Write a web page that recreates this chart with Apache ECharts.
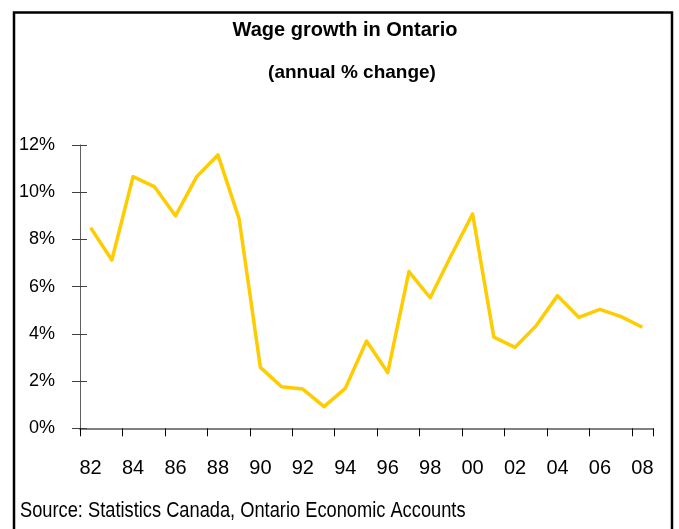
<!DOCTYPE html>
<html>
<head>
<meta charset="utf-8">
<style>
  html, body { margin: 0; padding: 0; background: #ffffff; }
  #chart { width: 679px; height: 529px; }
</style>
<script src="https://cdn.jsdelivr.net/npm/echarts@6/dist/echarts.min.js"></script>
</head>
<body>
<div id="chart"></div>
<script>
// Years 1982-2008, shown as two-digit labels
const years = ['82','83','84','85','86','87','88','89','90','91','92','93','94','95',
               '96','97','98','99','00','01','02','03','04','05','06','07','08'];
// Annual % change in wages, Ontario
const wageGrowth = [8.50, 7.13, 10.66, 10.24, 9.00, 10.66, 11.58, 8.86, 2.58, 1.76, 1.66, 0.92, 1.69, 3.70,
                    2.36, 6.64, 5.53, 7.34, 9.08, 3.86, 3.43, 4.35, 5.62, 4.70, 5.04, 4.73, 4.28];
// Value axis ticks (percent)
const yTicks = [0, 2, 4, 6, 8, 10, 12];

const titleText = 'Wage growth in Ontario';
const subtitleText = '(annual % change)';
const sourceText = 'Source: Statistics Canada, Ontario Economic Accounts';

const sans = "'Liberation Sans', Arial, sans-serif";

const chart = echarts.init(document.getElementById('chart'), null, { renderer: 'canvas' });

chart.setOption({
  animation: false,
  backgroundColor: '#ffffff',
  grid: { left: 80, right: 26, top: 145, bottom: 100.7, containLabel: false },
  xAxis: {
    type: 'category',
    data: years,
    boundaryGap: true,
    axisLine: { lineStyle: { color: '#808080', width: 2 } },
    axisTick: { show: true, interval: 1, length: 8, lineStyle: { color: '#000000', width: 1 } },
    axisLabel: { interval: 1, margin: 30, color: '#000000', fontFamily: sans, fontSize: 20 },
    splitLine: { show: false }
  },
  yAxis: [
    {
      type: 'value',
      min: yTicks[0],
      max: yTicks[yTicks.length - 1],
      interval: yTicks[1] - yTicks[0],
      axisLine: { show: true, lineStyle: { color: '#606060', width: 1 } },
      axisTick: { show: true, length: 8, lineStyle: { color: '#404040', width: 1 } },
      axisLabel: { margin: 25, color: '#000000', fontFamily: sans, fontSize: 18, formatter: '{value}%' },
      splitLine: { show: false }
    },
    {
      type: 'value',
      position: 'left',
      min: yTicks[0],
      max: yTicks[yTicks.length - 1],
      interval: yTicks[1] - yTicks[0],
      axisLine: { show: false },
      axisTick: { show: true, inside: true, length: 7, lineStyle: { color: '#404040', width: 1 } },
      axisLabel: { show: false },
      splitLine: { show: false }
    }
  ],
  series: [{
    type: 'line',
    data: wageGrowth,
    yAxisIndex: 0,
    symbol: 'none',
    lineStyle: { color: '#FFCC00', width: 3.5, join: 'round' },
    z: 3
  }],
  graphic: [
    {
      type: 'rect',
      shape: { x: 14, y: 12.5, width: 658, height: 540 },
      style: { fill: 'none', stroke: '#000000', lineWidth: 2.5 },
      silent: true
    },
    {
      type: 'text',
      x: 345, y: 30,
      style: { text: titleText, fill: '#000000', font: 'bold 20px ' + sans, textAlign: 'center', textVerticalAlign: 'middle' }
    },
    {
      type: 'text',
      x: 352, y: 73,
      style: { text: subtitleText, fill: '#000000', font: 'bold 19px ' + sans, textAlign: 'center', textVerticalAlign: 'middle' }
    },
    {
      // condensed source line
      type: 'text',
      x: 20, y: 511,
      scaleX: 0.83,
      style: { text: sourceText, fill: '#000000', font: '22px ' + sans, textAlign: 'left', textVerticalAlign: 'middle' }
    }
  ]
});
</script>
</body>
</html>
